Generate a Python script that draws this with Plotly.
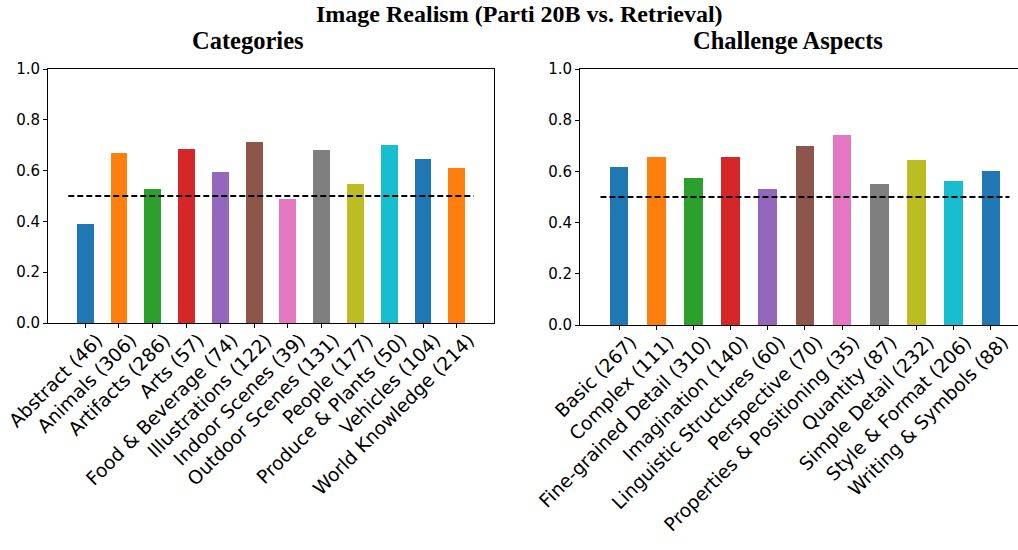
import plotly.graph_objects as go

W, H = 1018, 550

categories = ["Abstract (46)", "Animals (306)", "Artifacts (286)", "Arts (57)",
              "Food & Beverage (74)", "Illustrations (122)", "Indoor Scenes (39)",
              "Outdoor Scenes (131)", "People (177)", "Produce & Plants (50)",
              "Vehicles (104)", "World Knowledge (214)"]
category_values = [0.390, 0.670, 0.528, 0.686, 0.595, 0.713, 0.489, 0.682,
                   0.548, 0.702, 0.646, 0.611]

aspects = ["Basic (267)", "Complex (111)", "Fine-grained Detail (310)",
           "Imagination (140)", "Linguistic Structures (60)", "Perspective (70)",
           "Properties & Positioning (35)", "Quantity (87)", "Simple Detail (232)",
           "Style & Format (206)", "Writing & Symbols (88)"]
aspect_values = [0.618, 0.657, 0.575, 0.657, 0.533, 0.700, 0.743, 0.552,
                 0.646, 0.564, 0.603]

baseline = 0.5
tab10 = ['#1f77b4', '#ff7f0e', '#2ca02c', '#d62728', '#9467bd',
         '#8c564b', '#e377c2', '#7f7f7f', '#bcbd22', '#17becf']

fig = go.Figure()

def add_panel(names, vals, xa, ya):
    n = len(names)
    xs = list(range(n))
    fig.add_trace(go.Bar(x=xs, y=vals, width=0.5,
                         marker=dict(color=[tab10[i % 10] for i in xs], line=dict(width=0)),
                         xaxis=xa, yaxis=ya, showlegend=False))
    fig.add_trace(go.Scatter(x=[-0.5, n - 0.5], y=[baseline, baseline], mode="lines",
                             line=dict(color="black", width=2, dash="6px,3px"),
                             xaxis=xa, yaxis=ya, showlegend=False))

add_panel(categories, category_values, "x", "y")
add_panel(aspects, aspect_values, "x2", "y2")

tickfont_x = dict(family="DejaVu Sans", size=18.7, color="black")
tickfont_y = dict(family="DejaVu Sans", size=15, color="black")

common_x = dict(showgrid=False, zeroline=False, ticks="outside", ticklen=4, tickwidth=1,
                tickcolor="black", showline=True, linecolor="black", linewidth=1,
                tickangle=-45, tickfont=tickfont_x, mirror=True, automargin=False,
                ticklabelshift=12, ticklabelstandoff=-6, ticklabeloverflow="allow")
common_y = dict(showgrid=False, zeroline=False, ticks="outside", ticklen=4, tickwidth=1,
                tickcolor="black", showline=True, linecolor="black", linewidth=1,
                range=[0, 1], tickvals=[0, 0.2, 0.4, 0.6, 0.8, 1.0],
                tickformat=".1f", tickfont=tickfont_y, automargin=False,
                ticklabeloverflow="allow")

fig.update_layout(
    width=W, height=H,
    margin=dict(l=0, r=0, t=0, b=0, autoexpand=False),
    plot_bgcolor="white", paper_bgcolor="white",
    bargap=0,
    xaxis=dict(common_x, domain=[48 / W, 494 / W], range=[-1.1, 12.1],
               tickvals=list(range(len(categories))), ticktext=categories, anchor="y"),
    yaxis=dict(common_y, domain=[1 - 323 / H, 1 - 69 / H], anchor="x", mirror=True),
    xaxis2=dict(common_x, domain=[580 / W, 1.0], range=[-1.05, 10.73],
                tickvals=list(range(len(aspects))), ticktext=aspects, anchor="y2"),
    yaxis2=dict(common_y, domain=[1 - 325 / H, 1 - 69 / H], anchor="x2", mirror=False),
    annotations=[
        dict(text="<b>Image Realism (Parti 20B vs. Retrieval)</b>", x=519 / W, y=1 - 14 / H,
             xref="paper", yref="paper", showarrow=False, xanchor="center", yanchor="middle",
             font=dict(family="Liberation Serif", size=24, color="black")),
        dict(text="<b>Categories</b>", x=248 / W, y=1 - 40 / H,
             xref="paper", yref="paper", showarrow=False, xanchor="center", yanchor="middle",
             font=dict(family="Liberation Serif", size=24.5, color="black")),
        dict(text="<b>Challenge Aspects</b>", x=788 / W, y=1 - 40 / H,
             xref="paper", yref="paper", showarrow=False, xanchor="center", yanchor="middle",
             font=dict(family="Liberation Serif", size=24.5, color="black")),
    ],
)

fig.write_html("out.html", config={"displayModeBar": False},
               post_script="document.body.style.margin='0';document.body.style.overflow='hidden';")
